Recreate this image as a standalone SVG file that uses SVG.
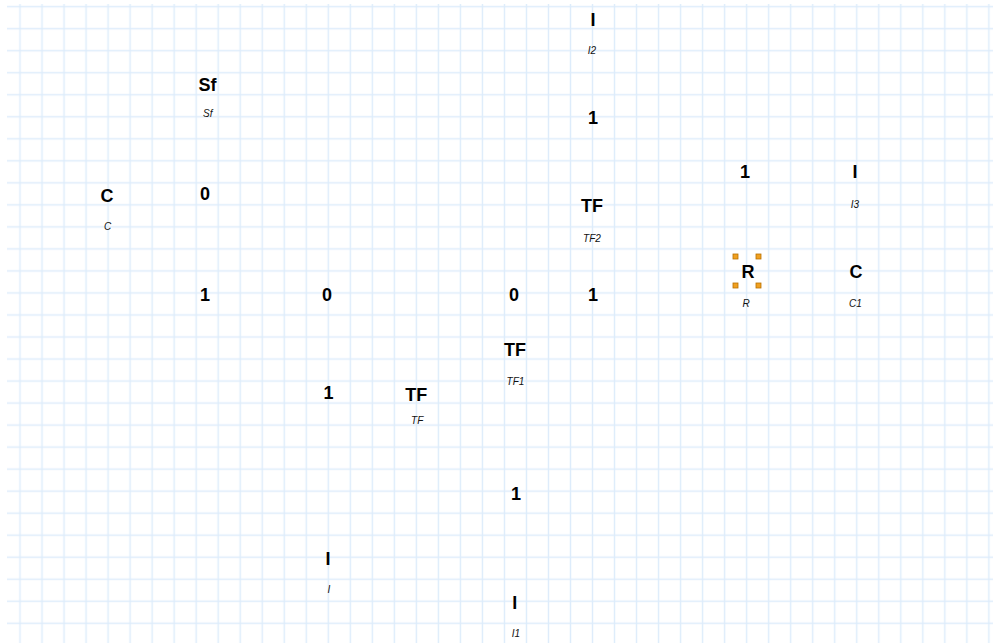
<svg xmlns="http://www.w3.org/2000/svg" width="993" height="643" viewBox="0 0 993 643">
<defs>
<style>
.g{stroke:#ddecfb;stroke-width:1.4;fill:none}
.b{font-family:"Liberation Sans",Arial,sans-serif;font-weight:bold;font-size:18px;fill:#000;text-anchor:middle}
.i{font-family:"Liberation Sans",Arial,sans-serif;font-style:italic;font-size:10px;fill:#111;text-anchor:middle}
.h{fill:#f0a020;stroke:#b87000;stroke-width:0.8}
</style>
<pattern id="grid" x="8.99" y="-4.31" width="22.02" height="22.02" patternUnits="userSpaceOnUse">
<path d="M11.01 0V22.02M0 11.01H22.02" class="g"/>
</pattern>
</defs>
<rect width="993" height="643" fill="#fff"/>
<rect x="7" y="4" width="986" height="639" fill="url(#grid)"/>
<g id="connectors"></g>
<g id="I2"><text class="b" x="593" y="26">I</text><text class="i" x="592" y="54">I2</text></g>
<g id="Sf"><text class="b" x="207.5" y="90.7">Sf</text><text class="i" x="207.7" y="117">Sf</text></g>
<g id="one_a"><text class="b" x="593" y="124">1</text></g>
<g id="one_b"><text class="b" x="745" y="178">1</text></g>
<g id="I3"><text class="b" x="855" y="178">I</text><text class="i" x="855" y="208">I3</text></g>
<g id="C"><text class="b" x="107" y="201.7">C</text><text class="i" x="107.5" y="230">C</text></g>
<g id="zero_a"><text class="b" x="205" y="200">0</text></g>
<g id="TF2"><text class="b" x="592" y="212">TF</text><text class="i" x="592" y="242">TF2</text></g>
<g id="R"><text class="b" x="748" y="278.3">R</text><text class="i" x="746" y="307">R</text>
<rect class="h" x="733" y="254" width="5" height="5"/><rect class="h" x="756" y="254" width="5" height="5"/><rect class="h" x="733" y="283" width="5" height="5"/><rect class="h" x="756" y="283" width="5" height="5"/></g>
<g id="C1"><text class="b" x="856" y="278">C</text><text class="i" x="855.5" y="307">C1</text></g>
<g id="one_c"><text class="b" x="205" y="301">1</text></g>
<g id="zero_b"><text class="b" x="327" y="300.7">0</text></g>
<g id="zero_c"><text class="b" x="514" y="301">0</text></g>
<g id="one_d"><text class="b" x="593" y="301">1</text></g>
<g id="TF1"><text class="b" x="515" y="356">TF</text><text class="i" x="515.5" y="385">TF1</text></g>
<g id="one_e"><text class="b" x="328.5" y="399.3">1</text></g>
<g id="TF"><text class="b" x="416.3" y="401">TF</text><text class="i" x="417.2" y="423.7">TF</text></g>
<g id="one_f"><text class="b" x="516" y="500">1</text></g>
<g id="I"><text class="b" x="328" y="565">I</text><text class="i" x="329" y="593">I</text></g>
<g id="I1"><text class="b" x="514.7" y="608.7">I</text><text class="i" x="516" y="637">I1</text></g>
</svg>
